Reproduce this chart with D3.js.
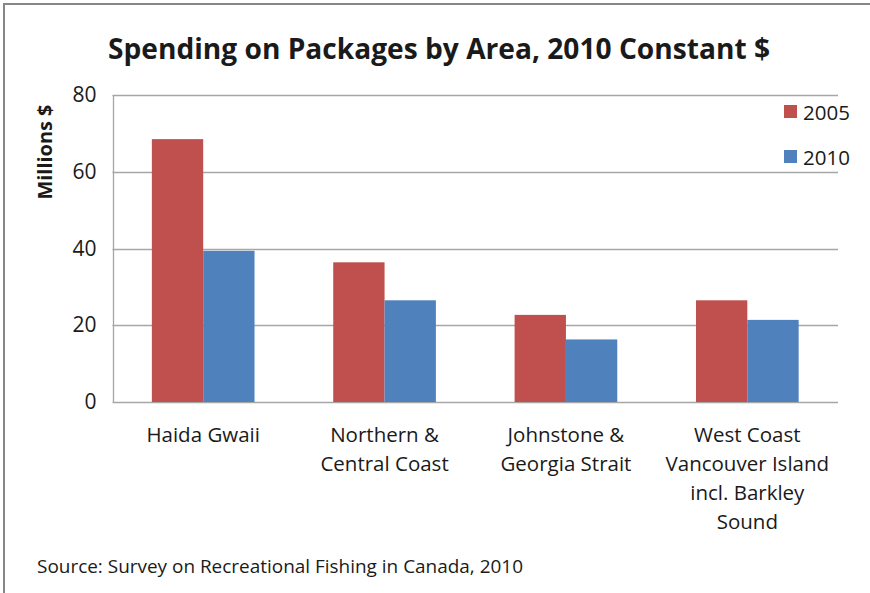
<!DOCTYPE html>
<html>
<head>
<meta charset="utf-8">
<script src="https://cdn.jsdelivr.net/npm/d3@7"></script>
<style>
  body { margin: 0; background: #fff; }
  text { font-family: "Open Sans", "DejaVu Sans", sans-serif; fill: #1a1a1a; }
</style>
</head>
<body>
<div id="chart"></div>
<script>
// data
var areas = [
    ["Haida Gwaii"],
    ["Northern &", "Central Coast"],
    ["Johnstone &", "Georgia Strait"],
    ["West Coast", "Vancouver Island", "incl. Barkley", "Sound"]
];
var seriesNames = ["2005", "2010"];
var values2005 = [68.5, 36.4, 22.7, 26.5];
var values2010 = [39.4, 26.5, 16.3, 21.4];
var yTicks = [0, 20, 40, 60, 80];
var colors = ["#C0504D", "#4F81BD"];

var width = 870, height = 593;
var margin = {left: 112.5, right: 32, top: 95, bottom: 191};

var svg = d3.select("#chart").append("svg")
    .attr("width", width)
    .attr("height", height);

// outer frame
svg.append("rect")
    .attr("x", 4).attr("y", 4)
    .attr("width", 1000).attr("height", 1000)
    .attr("fill", "#fff")
    .attr("stroke", "#878787")
    .attr("stroke-width", 2);

svg.append("text")
    .attr("x", 439).attr("y", 59)
    .attr("text-anchor", "middle")
    .attr("font-size", 29)
    .attr("font-weight", "bold")
    .attr("textLength", 662)
    .attr("lengthAdjust", "spacingAndGlyphs")
    .text("Spending on Packages by Area, 2010 Constant $");

var x0 = d3.scaleBand()
    .domain(d3.range(areas.length))
    .range([margin.left, width - margin.right])
    .paddingInner(0.434)
    .paddingOuter(0.217);

var x1 = d3.scaleBand()
    .domain(seriesNames)
    .range([0, x0.bandwidth()]);

var y = d3.scaleLinear()
    .domain([0, 80])
    .range([height - margin.bottom, margin.top]);

// grid
svg.append("g").selectAll("line")
    .data(yTicks)
    .enter().append("line")
    .attr("x1", margin.left)
    .attr("x2", width - margin.right)
    .attr("y1", d => Math.round(y(d)) + 0.5)
    .attr("y2", d => Math.round(y(d)) + 0.5)
    .attr("stroke", "#a6a6a6")
    .attr("stroke-width", 1.3);

svg.append("line")
    .attr("x1", Math.round(margin.left) + 0.5)
    .attr("x2", Math.round(margin.left) + 0.5)
    .attr("y1", y(80))
    .attr("y2", y(0))
    .attr("stroke", "#a6a6a6")
    .attr("stroke-width", 1.3);

// bars
var rows = [values2005, values2010];
var groups = svg.append("g").selectAll("g")
    .data(areas)
    .enter().append("g")
    .attr("transform", (d, i) => "translate(" + x0(i) + ",0)");

groups.selectAll("rect")
    .data((d, i) => seriesNames.map((s, j) => ({s: s, j: j, v: rows[j][i]})))
    .enter().append("rect")
    .attr("x", d => x1(d.s))
    .attr("y", d => y(d.v))
    .attr("width", x1.bandwidth())
    .attr("height", d => y(0) - y(d.v))
    .attr("fill", d => colors[d.j]);

// y axis
var yAxis = svg.append("g")
    .attr("transform", "translate(" + margin.left + ",0)")
    .call(d3.axisLeft(y).tickValues(yTicks).tickSize(0).tickPadding(16));
yAxis.select(".domain").remove();
yAxis.selectAll("text")
    .attr("font-size", 21)
    .attr("font-family", "'Open Sans', sans-serif")
    .attr("fill", "#1a1a1a");

svg.append("text")
    .attr("transform", "translate(52,152) rotate(-90)")
    .attr("text-anchor", "middle")
    .attr("font-size", 19)
    .attr("font-weight", "bold")
    .attr("textLength", 95)
    .attr("lengthAdjust", "spacingAndGlyphs")
    .text("Millions $");

// category labels
var labels = svg.append("g").selectAll("text")
    .data(areas)
    .enter().append("text")
    .attr("x", (d, i) => x0(i) + x0.bandwidth() / 2)
    .attr("y", 442)
    .attr("text-anchor", "middle")
    .attr("font-size", 20.5);
labels.selectAll("tspan")
    .data(d => d)
    .enter().append("tspan")
    .attr("x", function() { return this.parentNode.getAttribute("x"); })
    .attr("dy", (d, i) => i === 0 ? 0 : 29)
    .text(d => d);

// legend
var legend = svg.append("g").selectAll("g")
    .data(seriesNames)
    .enter().append("g")
    .attr("transform", (d, i) => "translate(784," + (105 + i * 45) + ")");
legend.append("rect")
    .attr("width", 13).attr("height", 13)
    .attr("fill", (d, i) => colors[i]);
legend.append("text")
    .attr("x", 19).attr("y", 14.5)
    .attr("font-size", 20.5)
    .text(d => d);

svg.append("text")
    .attr("x", 37).attr("y", 573)
    .attr("font-size", 17.5)
    .attr("textLength", 486)
    .attr("lengthAdjust", "spacingAndGlyphs")
    .text("Source: Survey on Recreational Fishing in Canada, 2010");
</script>
</body>
</html>
